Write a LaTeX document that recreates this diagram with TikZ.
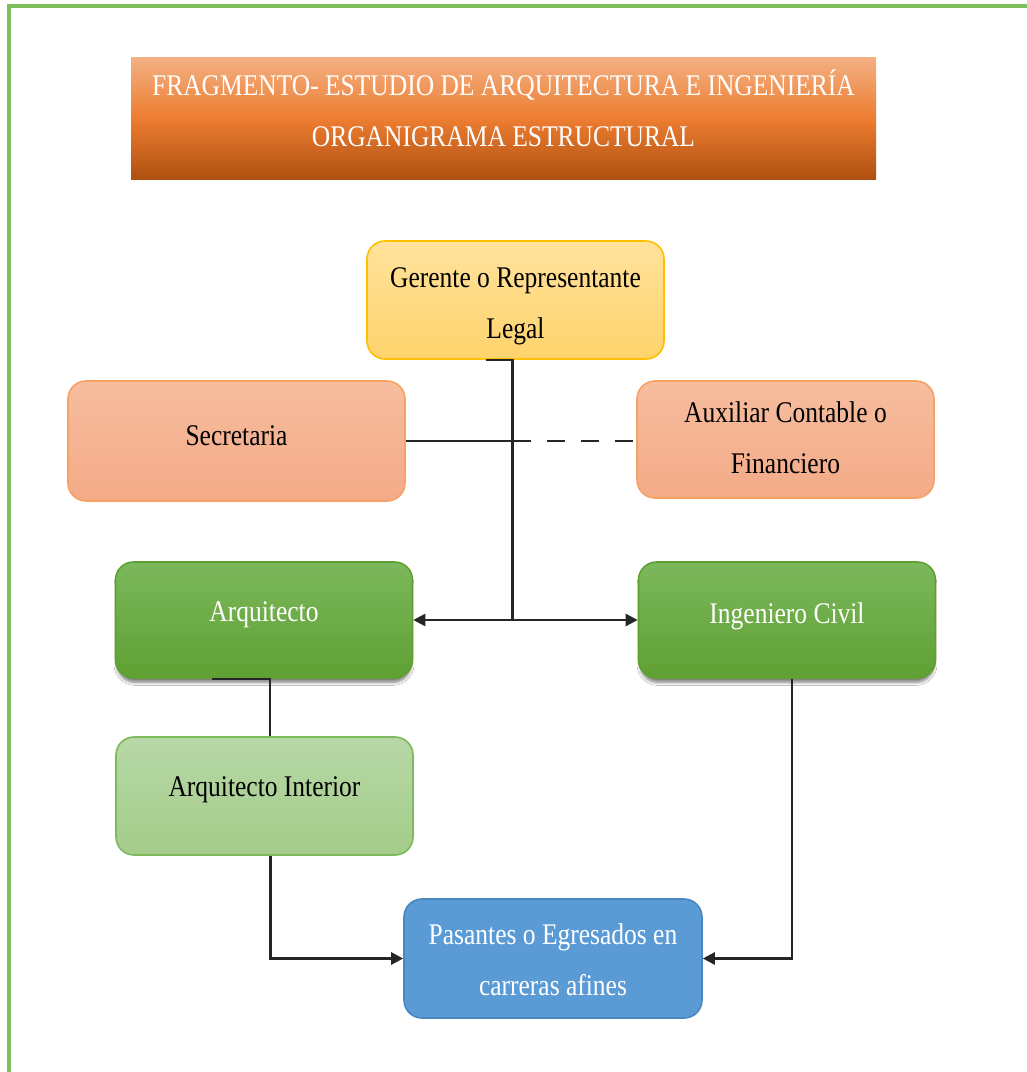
\documentclass[tikz,border=0pt]{standalone}
\usepackage{fontspec}
\setmainfont{Liberation Serif}[FakeStretch=0.85]
\usetikzlibrary{arrows.meta,shadows.blur}

\definecolor{framegreen}{HTML}{7DBF5B}
\definecolor{tTop}{HTML}{F3B184}
\definecolor{tMid}{HTML}{ED7D31}
\definecolor{tBot}{HTML}{AF5010}
\definecolor{gTop}{HTML}{FFE29C}
\definecolor{gBot}{HTML}{FFD36C}
\definecolor{gLine}{HTML}{FFC000}
\definecolor{sTop}{HTML}{F6BD9F}
\definecolor{sBot}{HTML}{F4AA87}
\definecolor{sLine}{HTML}{F6A265}
\definecolor{aTop}{HTML}{7CB85C}
\definecolor{aBot}{HTML}{5FA033}
\definecolor{iTop}{HTML}{B7D8A7}
\definecolor{iBot}{HTML}{A4CC89}
\definecolor{iLine}{HTML}{7DBA5C}
\definecolor{pFill}{HTML}{5B9BD5}
\definecolor{pLine}{HTML}{4A86C0}
\definecolor{wire}{HTML}{262626}

\tikzset{
  orgbox/.style={rectangle, rounded corners=9pt, line width=0.8pt,
    minimum width=148.5pt, minimum height=59pt, inner sep=0pt},
  lbl/.style={font=\fontsize{15}{25.5}\selectfont, align=center, inner sep=0pt},
  bossbox/.style={orgbox, draw=gLine, top color=gTop, bottom color=gBot},
  staffbox/.style={orgbox, draw=sLine, top color=sTop, bottom color=sBot},
  leadbox/.style={orgbox, draw=aBot, top color=aTop, bottom color=aBot,
    blur shadow={shadow xshift=0pt, shadow yshift=-2.5pt, shadow blur radius=1.5pt,
      shadow blur steps=5, shadow scale=0.99, shadow opacity=50}},
  subbox/.style={orgbox, draw=iLine, top color=iTop, bottom color=iBot},
  juniorbox/.style={orgbox, draw=pLine, fill=pFill},
  wireline/.style={draw=wire, line width=1.25pt},
  arrowhead/.tip={Triangle[length=6pt,width=6pt]},
  tip/.style={-arrowhead},
}

\begin{document}
\begin{tikzpicture}[x=0.5pt, y=-0.5pt]
\useasboundingbox (0,0) rectangle (1027,1072);
\fill[white] (0,0) rectangle (1027,1072);

% outer frame (top and left edges)
\draw[framegreen, line width=1.6pt] (9,1072) -- (9,6) -- (1027,6);

% title banner
\shade[top color=tTop, bottom color=tBot, middle color=tMid] (131,57) rectangle (876,179);
\node[lbl, text=white] (title) at (503.5,108.5) {FRAGMENTO- ESTUDIO DE ARQUITECTURA E INGENIERÍA\\ORGANIGRAMA ESTRUCTURAL};

% boxes
\node[bossbox] (ger) at (515.5,300) {};
\node[lbl] (gert) at (515.5,306.5) {Gerente o Representante\\Legal};

\node[staffbox, minimum width=168.5pt, minimum height=60pt] (sec) at (236.5,441) {};
\node[lbl] (sect) at ([yshift=2.5pt]sec.center) {Secretaria};

\node[staffbox, minimum height=58.5pt] (aux) at (785.5,439.5) {};
\node[lbl] (auxt) at (785.5,438) {Auxiliar Contable o\\Financiero};

\node[leadbox, minimum height=58pt] (arq) at (264,620) {};
\node[lbl, text=white] (arqt) at ([yshift=2.5pt]arq.center) {Arquitecto};

\node[leadbox, minimum height=58pt] (ing) at (787,620) {};
\node[lbl, text=white] (ingt) at ([yshift=2pt]ing.center) {Ingeniero Civil};

\node[subbox] (int) at (264.5,796) {};
\node[lbl] (intt) at ([yshift=3pt]int.center) {Arquitecto Interior};

\node[juniorbox, minimum width=149pt, minimum height=59.5pt] (pas) at (553,958.5) {};
\node[lbl, text=white] (past) at (553,959.5) {Pasantes o Egresados en\\carreras afines};

% connectors
\draw[wireline] ([xshift=-15pt]ger.south) -- ([xshift=-1.5pt]ger.south) -- ([xshift=-1.5pt]ger.south |- arq.east);
\draw[wireline, arrowhead-arrowhead] (arq.east) -- (ing.west);
\draw[wireline] (sec.east) -- ([xshift=-1.5pt]sec.east -| ger.south);
\draw[wireline, dash pattern=on 9pt off 8pt] ([xshift=-1.5pt]sec.east -| ger.south) -- (aux.west |- sec.east);
\draw[wireline] ([xshift=-26pt]arq.south) -- ([xshift=3pt]arq.south) -- ([xshift=3pt]arq.south |- int.north);
\draw[wireline, tip] ([xshift=3pt]int.south) -- ([xshift=3pt]int.south |- pas.west) -- (pas.west);
\draw[wireline, tip] ([xshift=2.5pt]ing.south) -- ([xshift=2.5pt]ing.south |- pas.east) -- (pas.east);
\end{tikzpicture}
\end{document}
